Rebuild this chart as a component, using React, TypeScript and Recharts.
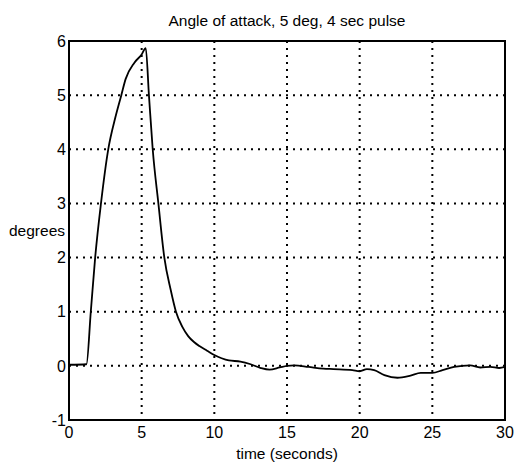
import {
  CartesianGrid,
  Label,
  Line,
  LineChart,
  ReferenceArea,
  XAxis,
  YAxis,
} from "recharts";

// Angle of attack response to a 5 degree, 4 second pulse
const TIME = [
  0, 1.2, 1.5, 1.8, 2.2, 2.7, 3.2, 3.6, 3.9, 4.5, 5.0, 5.28, 5.5, 5.76, 6.15,
  6.56, 7.0, 7.36, 7.8, 8.2, 8.6, 9.0, 9.5, 10, 10.5, 11, 11.8, 12.5, 13.2,
  13.8, 14.5, 15, 15.5, 16.5, 17.5, 18.2, 19.5, 20, 20.5, 21, 21.7, 22.6, 23.5,
  24.2, 25, 25.7, 26.5, 27.6, 28.3, 29, 29.6, 30,
];
const ALPHA = [
  0.02, 0.03, 1.0, 2.0, 3.0, 4.0, 4.6, 5.0, 5.3, 5.6, 5.75, 5.87, 5.0, 4.0, 3.0,
  2.0, 1.4, 1.0, 0.72, 0.55, 0.44, 0.36, 0.28, 0.2, 0.14, 0.1, 0.08, 0.03,
  -0.04, -0.07, -0.03, 0.0, 0.01, -0.02, -0.05, -0.06, -0.08, -0.1, -0.06,
  -0.08, -0.17, -0.22, -0.18, -0.13, -0.13, -0.08, -0.02, 0.01, -0.03, -0.02,
  -0.04, -0.02,
];
const X_TICKS = [0, 5, 10, 15, 20, 25, 30];
const Y_TICKS = [-1, 0, 1, 2, 3, 4, 5, 6];

const data = TIME.map((t, i) => ({ t, alpha: ALPHA[i] }));

const tickStyle = { fill: "#000", fontSize: 16 };

export default function App() {
  return (
    <div
      style={{
        position: "absolute",
        left: 0,
        top: 0,
        background: "#fff",
        fontFamily: '"Liberation Sans", Arial, sans-serif',
      }}
    >
      <LineChart
        width={519}
        height={466}
        data={data}
        margin={{ top: 41, right: 14, bottom: 0, left: 0 }}
      >
        <CartesianGrid stroke="#000" strokeWidth={2} strokeDasharray="2 5" />
        <XAxis
          dataKey="t"
          type="number"
          domain={[0, 30]}
          ticks={X_TICKS}
          height={46}
          axisLine={false}
          tickLine={false}
          tickMargin={1}
          tick={tickStyle}
          interval={0}
        >
          <Label
            value="time (seconds)"
            position="insideBottom"
            offset={7}
            fill="#000"
            fontSize={15.5}
          />
        </XAxis>
        <YAxis
          type="number"
          domain={[-1, 6]}
          ticks={Y_TICKS}
          width={69}
          axisLine={false}
          tickLine={false}
          tickSize={2}
          tickMargin={1}
          tick={tickStyle}
          interval={0}
        >
          <Label
            value="degrees"
            position="insideLeft"
            offset={9}
            fill="#000"
            fontSize={15.5}
          />
        </YAxis>
        <ReferenceArea
          x1={0}
          x2={30}
          y1={-1}
          y2={6}
          fill="none"
          stroke="#000"
          strokeWidth={2}
          ifOverflow="visible"
        >
          <Label
            value="Angle of attack, 5 deg, 4 sec pulse"
            position="top"
            offset={15}
            fill="#000"
            fontSize={15.5}
          />
        </ReferenceArea>
        <Line
          type="monotone"
          dataKey="alpha"
          stroke="#000"
          strokeWidth={1.8}
          dot={false}
          isAnimationActive={false}
        />
      </LineChart>
    </div>
  );
}
